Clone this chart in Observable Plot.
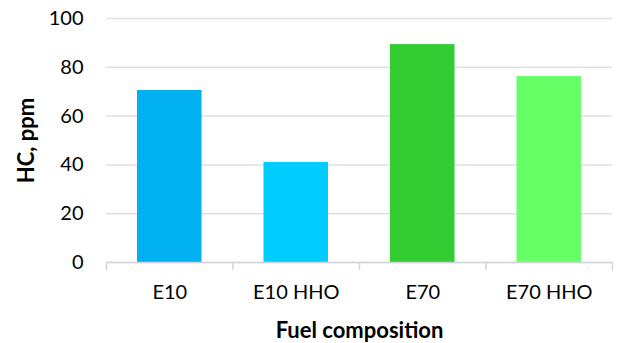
<!DOCTYPE html>
<html>
<head>
<meta charset="utf-8">
<script src="https://cdn.jsdelivr.net/npm/d3@7"></script>
<script src="https://cdn.jsdelivr.net/npm/@observablehq/plot@0.6"></script>
<style>
  html, body { margin: 0; padding: 0; background: #fff; }
</style>
</head>
<body>
<div id="chart"></div>
<script>
const categories = ["E10", "E10 HHO", "E70", "E70 HHO"];
const values = [70.5, 41, 89.3, 76.2];
const colors = ["#00B0F0", "#00CCFF", "#33CC33", "#66FF66"];
const yTicks = [0, 20, 40, 60, 80, 100];
const yTitle = "HC, ppm";
const xTitle = "Fuel composition";

const data = categories.map((c, i) => ({c, i, v: values[i]}));
const gridColor = "#dde1e6";
const axisColor = "#d0d4d9";

const chart = Plot.plot({
  width: 619,
  height: 343,
  marginLeft: 106,
  marginRight: 7,
  marginTop: 18,
  marginBottom: 81,
  style: {fontFamily: "Lato, sans-serif", fontSize: "20px", color: "#000", background: "#fff"},
  x: {domain: [0, categories.length]},
  y: {domain: [0, 100]},
  color: {domain: categories, range: colors},
  marks: [
    Plot.gridY(yTicks, {stroke: gridColor, strokeOpacity: 1, strokeWidth: 1.5}),
    Plot.rectY(data, {x1: "i", x2: d => d.i + 1, y1: 0, y2: "v", fill: "c", insetLeft: 31, insetRight: 31}),
    Plot.ruleY([0], {stroke: axisColor, strokeWidth: 1.5}),
    Plot.axisY(yTicks, {tickSize: 0, tickPadding: 23, label: null, fill: "#000", fontSize: 20}),
    Plot.axisX(d3.range(categories.length + 1), {tickSize: 8, tickFormat: () => "", stroke: axisColor, strokeWidth: 1.5, label: null}),
    Plot.axisX(categories.map((c, i) => i + 0.5), {tickSize: 0, tickPadding: 22, tickFormat: d => categories[Math.floor(d)], label: null, fill: "#000", fontSize: 20}),
    Plot.text([yTitle], {frameAnchor: "left", textAnchor: "middle", rotate: -90, dx: -80, fontWeight: "bold", fontSize: 22, fill: "#000"}),
    Plot.text([xTitle], {frameAnchor: "bottom", textAnchor: "middle", dy: 75, fontWeight: "bold", fontSize: 22, fill: "#000"})
  ]
});
document.getElementById("chart").appendChild(chart);
</script>
</body>
</html>
